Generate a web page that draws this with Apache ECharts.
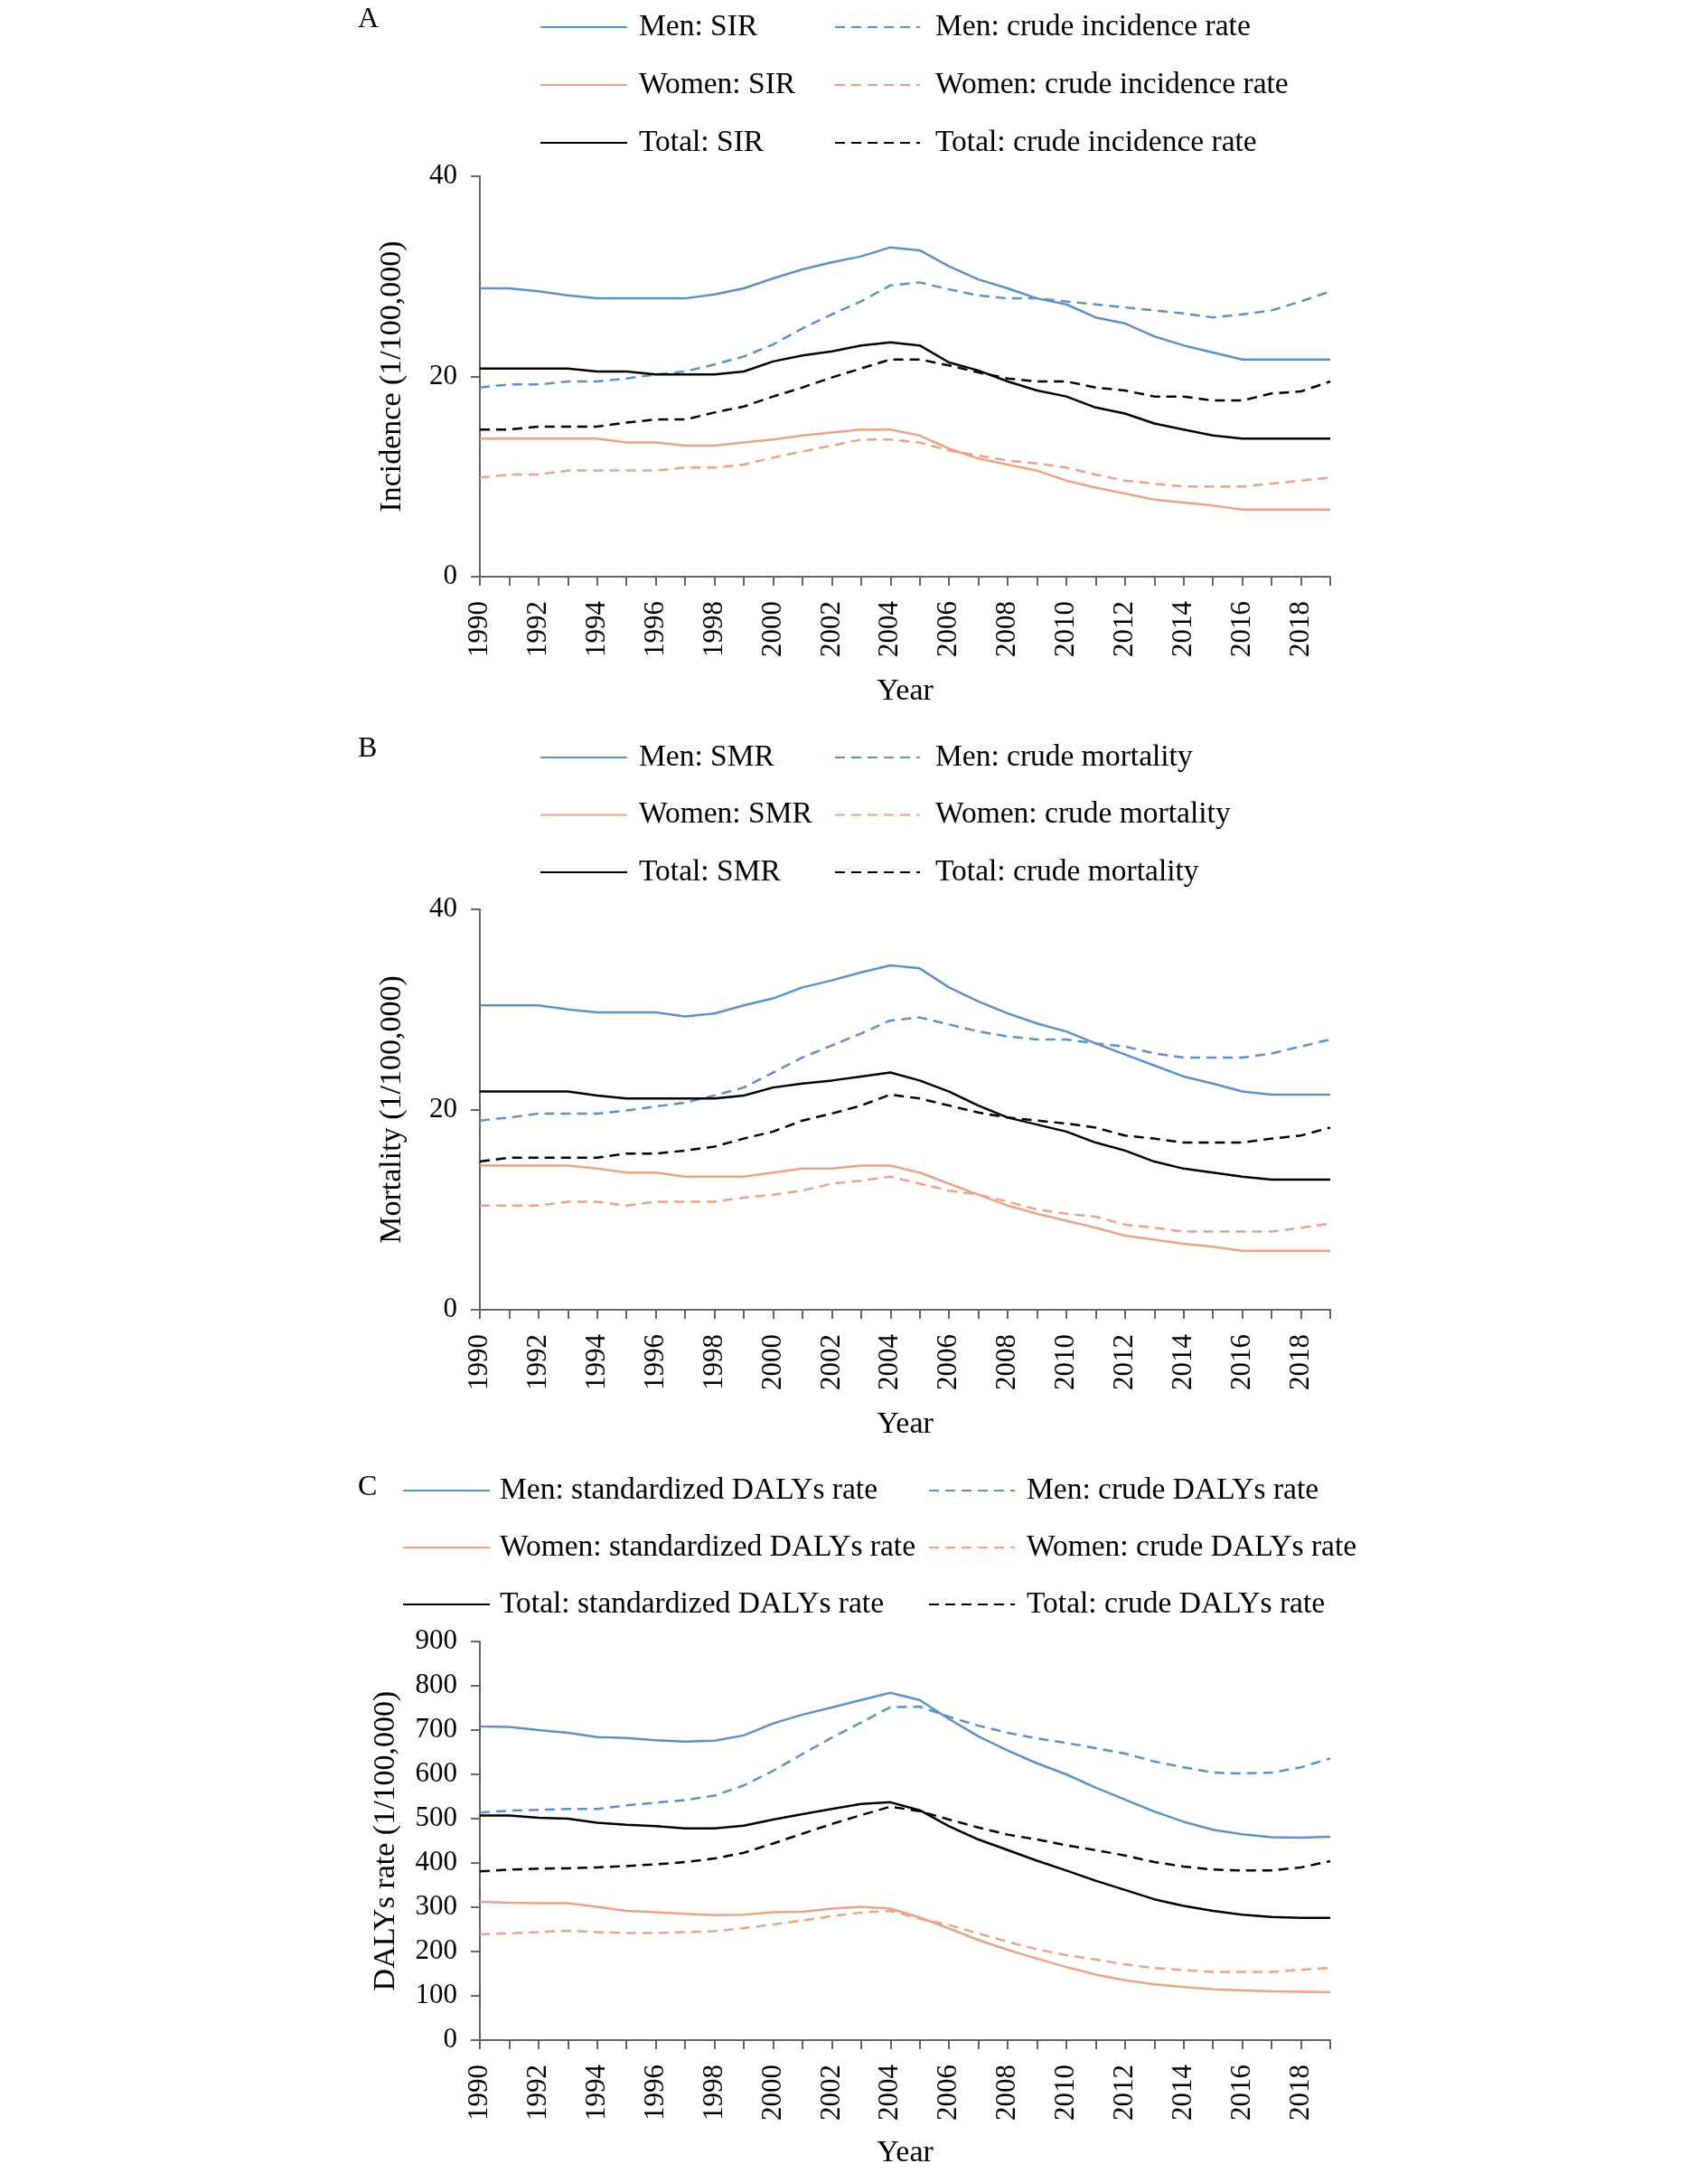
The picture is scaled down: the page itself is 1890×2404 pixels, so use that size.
<!DOCTYPE html>
<html>
<head>
<meta charset="utf-8">
<script src="https://cdn.jsdelivr.net/npm/echarts@6/dist/echarts.min.js"></script>
<style>
html,body{margin:0;padding:0;background:#fff;}
#chart{width:1890px;height:2404px;}
</style>
</head>
<body>
<div id="chart"></div>
<script>
var years = ['1990','1991','1992','1993','1994','1995','1996','1997','1998','1999','2000','2001','2002','2003','2004','2005','2006','2007','2008','2009','2010','2011','2012','2013','2014','2015','2016','2017','2018','2019'];

// Panel A: incidence (1/100,000)
var menSIR = [28.8,28.8,28.5,28.1,27.8,27.8,27.8,27.8,28.2,28.8,29.8,30.7,31.4,32.0,32.9,32.6,31.0,29.7,28.8,27.8,27.2,25.9,25.3,24.0,23.1,22.4,21.7,21.7,21.7,21.7];
var menCrudeInc = [18.9,19.2,19.2,19.5,19.5,19.8,20.2,20.5,21.2,22.0,23.2,24.8,26.2,27.5,29.1,29.4,28.7,28.1,27.8,27.8,27.5,27.2,26.9,26.6,26.3,25.9,26.2,26.6,27.5,28.5];
var womenSIR = [13.8,13.8,13.8,13.8,13.8,13.4,13.4,13.1,13.1,13.4,13.7,14.1,14.4,14.7,14.7,14.1,12.8,11.8,11.2,10.6,9.6,8.9,8.3,7.7,7.4,7.1,6.7,6.7,6.7,6.7];
var womenCrudeInc = [9.9,10.2,10.2,10.6,10.6,10.6,10.6,10.9,10.9,11.2,11.9,12.5,13.1,13.7,13.7,13.4,12.6,12.1,11.6,11.3,10.9,10.2,9.6,9.3,9.0,9.0,9.0,9.3,9.6,9.9];
var totalSIR = [20.8,20.8,20.8,20.8,20.5,20.5,20.2,20.2,20.2,20.5,21.5,22.1,22.5,23.1,23.4,23.1,21.4,20.6,19.5,18.6,18.0,16.9,16.3,15.3,14.7,14.1,13.8,13.8,13.8,13.8];
var totalCrudeInc = [14.7,14.7,15.0,15.0,15.0,15.4,15.7,15.7,16.4,17.0,18.0,18.9,19.9,20.8,21.7,21.7,21.1,20.4,19.8,19.5,19.5,18.9,18.6,18.0,18.0,17.6,17.6,18.3,18.5,19.5];

// Panel B: mortality (1/100,000)
var menSMR = [30.4,30.4,30.4,30.0,29.7,29.7,29.7,29.3,29.6,30.4,31.1,32.2,32.9,33.7,34.4,34.1,32.2,30.8,29.6,28.6,27.8,26.6,25.5,24.4,23.3,22.6,21.8,21.5,21.5,21.5];
var menCrudeMort = [18.9,19.2,19.6,19.6,19.6,19.9,20.3,20.7,21.4,22.2,23.7,25.2,26.4,27.6,28.9,29.2,28.5,27.8,27.3,27.0,27.0,26.6,26.3,25.6,25.2,25.2,25.2,25.6,26.3,27.0];
var womenSMR = [14.4,14.4,14.4,14.4,14.1,13.7,13.7,13.3,13.3,13.3,13.7,14.1,14.1,14.4,14.4,13.7,12.6,11.5,10.4,9.6,8.9,8.2,7.4,7.0,6.6,6.3,5.9,5.9,5.9,5.9];
var womenCrudeMort = [10.4,10.4,10.4,10.8,10.8,10.4,10.8,10.8,10.8,11.2,11.5,11.9,12.6,12.9,13.3,12.6,11.9,11.5,10.8,10.0,9.6,9.3,8.5,8.2,7.8,7.8,7.8,7.8,8.2,8.6];
var totalSMR = [21.8,21.8,21.8,21.8,21.4,21.1,21.1,21.1,21.1,21.4,22.2,22.6,22.9,23.3,23.7,22.9,21.8,20.4,19.2,18.5,17.8,16.7,15.9,14.8,14.1,13.7,13.3,13.0,13.0,13.0];
var totalCrudeMort = [14.8,15.2,15.2,15.2,15.2,15.6,15.6,15.9,16.3,17.1,17.8,18.9,19.6,20.4,21.5,21.1,20.4,19.7,19.2,18.9,18.6,18.2,17.4,17.1,16.7,16.7,16.7,17.1,17.4,18.2];

// Panel C: DALYs rate (1/100,000)
var menStdDaly = [708,707,700,694,684,682,677,674,676,688,715,735,751,768,784,768,725,686,654,625,600,570,543,516,493,475,465,458,457,459];
var menCrudeDaly = [514,518,520,522,522,530,536,542,552,575,608,646,683,717,752,753,730,710,694,681,671,659,647,629,616,604,602,604,616,636];
var womenStdDaly = [312,310,309,309,301,292,289,285,282,283,289,290,297,301,297,277,252,226,204,184,165,148,135,126,120,115,112,110,109,108];
var womenCrudeDaly = [239,241,244,247,244,242,242,244,246,253,261,270,280,288,292,274,260,241,222,205,192,182,171,163,158,154,154,154,159,163];
var totalStdDaly = [507,507,502,500,491,486,483,478,478,484,498,510,522,533,537,519,483,453,429,405,383,360,339,318,303,292,283,278,276,276];
var totalCrudeDaly = [381,385,387,388,390,393,397,402,410,423,444,466,488,508,527,517,498,480,464,453,440,429,417,402,392,385,383,383,390,404];

var FONT = "'Liberation Serif','Times New Roman',serif";
var BLUE = '#5b93c8', ORANGE = '#eca486', BLACK = '#000000', AXIS = '#666666';
var DASH = [11, 7];

var chart = echarts.init(document.getElementById('chart'), null, {renderer: 'canvas'});

var gridDefs = [
  {top: 195, height: 443},
  {top: 1006, height: 443},
  {top: 1816, height: 441}
];
var grids = gridDefs.map(function (g) {
  return {left: 531, right: 418, top: g.top, height: g.height, containLabel: false};
});

var yNames = ['Incidence (1/100,000)', 'Mortality (1/100,000)', 'DALYs rate (1/100,000)'];
var yMax = [40, 40, 900], yInt = [20, 20, 100], yGap = [80, 80, 87];
var xNameGap = [110, 110, 108];

var xAxes = [0, 1, 2].map(function (i) {
  return {
    type: 'category', gridIndex: i, data: years, boundaryGap: false,
    name: 'Year', nameLocation: 'middle', nameGap: xNameGap[i],
    nameTextStyle: {fontFamily: FONT, fontSize: 34, color: '#000'},
    axisLine: {lineStyle: {color: AXIS, width: 2}},
    axisTick: {show: true, interval: 0, length: 10, lineStyle: {color: AXIS, width: 2}},
    axisLabel: {interval: 1, rotate: 90, margin: 27, fontFamily: FONT, fontSize: 31, color: '#000'},
    splitLine: {show: false}
  };
});
var yAxes = [0, 1, 2].map(function (i) {
  return {
    type: 'value', gridIndex: i, min: 0, max: yMax[i], interval: yInt[i],
    name: yNames[i], nameLocation: 'middle', nameGap: yGap[i],
    nameTextStyle: {fontFamily: FONT, fontSize: 34, color: '#000'},
    axisLine: {show: true, lineStyle: {color: AXIS, width: 2}},
    axisTick: {show: true, length: 10, lineStyle: {color: AXIS, width: 2}},
    axisLabel: {margin: 25, fontFamily: FONT, fontSize: 31, color: '#000'},
    splitLine: {show: false}
  };
});

function ser(name, data, idx, color, dashed) {
  return {
    name: name, type: 'line', xAxisIndex: idx, yAxisIndex: idx, data: data,
    symbol: 'none', showSymbol: false, silent: true, animation: false,
    lineStyle: {color: color, width: 2.5, type: dashed ? DASH : 'solid'},
    itemStyle: {color: color}
  };
}

var labelsA = ['Men: SIR', 'Men: crude incidence rate', 'Women: SIR', 'Women: crude incidence rate', 'Total: SIR', 'Total: crude incidence rate'];
var labelsB = ['Men: SMR', 'Men: crude mortality', 'Women: SMR', 'Women: crude mortality', 'Total: SMR', 'Total: crude mortality'];
var labelsC = ['Men: standardized DALYs rate', 'Men: crude DALYs rate', 'Women: standardized DALYs rate', 'Women: crude DALYs rate', 'Total: standardized DALYs rate', 'Total: crude DALYs rate'];

var series = [
  ser(labelsA[0], menSIR, 0, BLUE, false),
  ser(labelsA[1], menCrudeInc, 0, BLUE, true),
  ser(labelsA[2], womenSIR, 0, ORANGE, false),
  ser(labelsA[3], womenCrudeInc, 0, ORANGE, true),
  ser(labelsA[4], totalSIR, 0, BLACK, false),
  ser(labelsA[5], totalCrudeInc, 0, BLACK, true),
  ser(labelsB[0], menSMR, 1, BLUE, false),
  ser(labelsB[1], menCrudeMort, 1, BLUE, true),
  ser(labelsB[2], womenSMR, 1, ORANGE, false),
  ser(labelsB[3], womenCrudeMort, 1, ORANGE, true),
  ser(labelsB[4], totalSMR, 1, BLACK, false),
  ser(labelsB[5], totalCrudeMort, 1, BLACK, true),
  ser(labelsC[0], menStdDaly, 2, BLUE, false),
  ser(labelsC[1], menCrudeDaly, 2, BLUE, true),
  ser(labelsC[2], womenStdDaly, 2, ORANGE, false),
  ser(labelsC[3], womenCrudeDaly, 2, ORANGE, true),
  ser(labelsC[4], totalStdDaly, 2, BLACK, false),
  ser(labelsC[5], totalCrudeDaly, 2, BLACK, true)
];

function leg(names, left, top, w, gap, pad) {
  return {
    orient: 'vertical', left: left, top: top, itemWidth: w, itemHeight: 34, itemGap: gap,
    data: names, selectedMode: false, padding: 0,
    itemStyle: {opacity: 0},
    textStyle: {fontFamily: FONT, fontSize: 33.5, lineHeight: 34, color: '#000', padding: [0, 0, 0, pad]}
  };
}
var legends = [
  leg([labelsA[0], labelsA[2], labelsA[4]], 597, 13, 96, 30, 8),
  leg([labelsA[1], labelsA[3], labelsA[5]], 923, 13, 94, 30, 12),
  leg([labelsB[0], labelsB[2], labelsB[4]], 597, 821, 96, 29.5, 8),
  leg([labelsB[1], labelsB[3], labelsB[5]], 923, 821, 94, 29.5, 12),
  leg([labelsC[0], labelsC[2], labelsC[4]], 445, 1632, 96, 29, 6),
  leg([labelsC[1], labelsC[3], labelsC[5]], 1027, 1632, 95, 29, 8)
];

function panelLabel(t, y) {
  return {type: 'text', left: 396, top: y, style: {text: t, fontFamily: FONT, fontSize: 32, fill: '#000'}};
}

chart.setOption({
  backgroundColor: '#ffffff',
  animation: false,
  grid: grids,
  xAxis: xAxes,
  yAxis: yAxes,
  legend: legends,
  series: series,
  graphic: [panelLabel('A', 6), panelLabel('B', 813), panelLabel('C', 1630)]
});
</script>
</body>
</html>
